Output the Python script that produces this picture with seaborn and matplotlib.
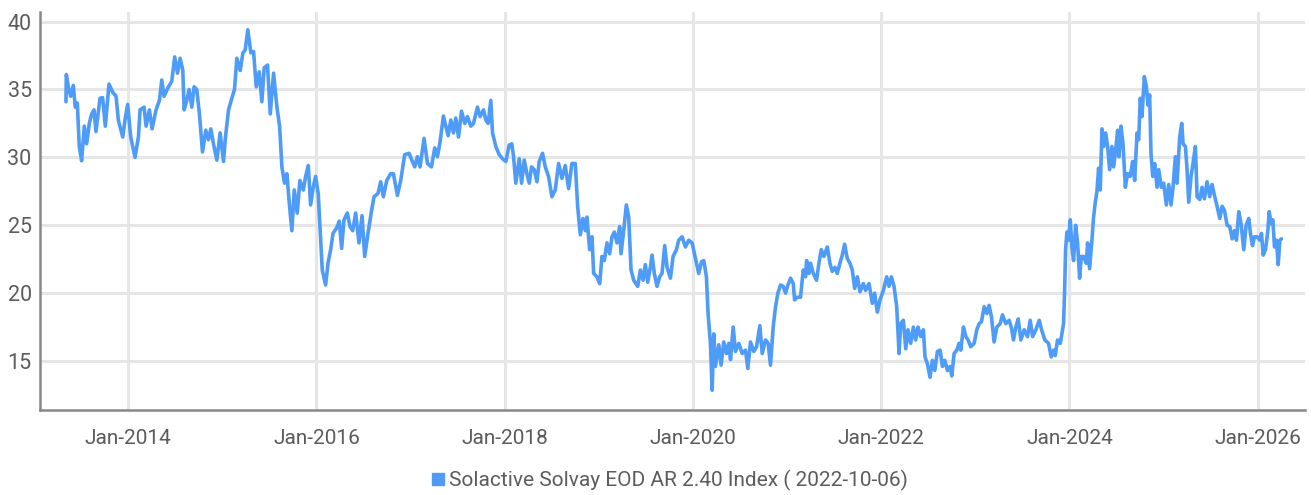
import numpy as np
import pandas as pd
import matplotlib
matplotlib.use("Agg")
import matplotlib.pyplot as plt
import matplotlib.dates as mdates
from matplotlib.lines import Line2D
import seaborn as sns

# months after Jan-2014 and index level
months_a = [-7.96, -7.91, -7.66, -7.36, -7.02, -6.77, -6.51, -6.26, -5.96, -5.62,
            -5.32, -4.98, -4.68, -4.38, -4.13, -3.62, -3.28, -2.94, -2.47, -2.00,
            -1.57, -1.28, -0.72, -0.43, -0.09, 0.30, 0.85, 1.28, 1.49, 2.00,
            2.26, 2.68, 3.02, 3.53, 3.96, 4.26, 4.55, 5.02, 5.53, 5.91,
            6.26, 6.60, 6.94, 7.11, 7.45, 7.74, 8.09, 8.38, 8.72, 9.06,
            9.45, 9.87, 10.21, 10.51, 10.85, 11.28, 11.70, 12.13, 12.38, 12.77,
            13.19, 13.53, 13.83, 14.26, 14.60, 14.89, 15.23, 15.62, 15.96, 16.30,
            16.68, 17.02, 17.32, 17.74, 18.09, 18.51, 18.94, 19.28, 19.57, 19.91,
            20.21, 20.55, 20.85, 21.15]
values_a = [34.1, 36.1, 35.2, 34.5, 35.3, 33.7, 34.0, 30.8, 29.75, 32.3,
            31.0, 32.5, 33.2, 33.5, 31.9, 34.35, 34.4, 32.3, 35.4, 34.8,
            34.5, 32.75, 31.5, 32.75, 33.9, 31.5, 30.0, 31.5, 33.5, 33.7,
            32.3, 33.5, 32.1, 33.5, 34.2, 35.7, 34.5, 35.1, 35.6, 37.4,
            36.2, 37.3, 36.4, 33.5, 34.2, 35.0, 33.7, 35.2, 35.0, 33.2,
            30.4, 32.0, 31.3, 32.1, 31.0, 29.8, 31.8, 29.7, 31.5, 33.5,
            34.35, 35.0, 37.3, 36.4, 37.7, 37.9, 39.4, 37.7, 37.8, 35.2,
            36.3, 34.1, 36.6, 36.8, 33.2, 36.2, 33.7, 32.3, 29.3, 28.1,
            28.8, 26.4, 24.6, 27.6]

months_b = [21.53, 21.87, 22.30, 22.60, 22.94, 23.23, 23.57, 23.87, 24.21, 24.43,
            24.72, 25.15, 25.45, 25.79, 26.09, 26.55, 26.89, 27.19, 27.49, 27.91,
            28.26, 28.60, 28.98, 29.40, 29.79, 30.13, 30.55, 30.98, 31.32, 31.83,
            32.17, 32.51, 32.94, 33.45, 33.79, 34.30, 34.72, 35.23, 35.79, 36.21,
            36.51, 36.85, 37.19, 37.70, 38.13, 38.64, 39.06, 39.40, 39.74, 40.17,
            40.47, 40.77, 41.11, 41.45, 41.74, 42.09, 42.47, 42.89, 43.23, 43.66,
            44.00, 44.51, 44.85, 45.28, 45.57, 45.87, 46.21, 46.43, 46.85, 47.28,
            47.70, 48.13, 48.55, 48.89, 49.11, 49.40, 49.83, 50.13, 50.47, 50.81,
            51.11, 51.40, 51.74, 52.09, 52.38, 52.81]
values_b = [25.9, 28.3, 27.6, 28.6, 29.4, 26.5, 27.8, 28.6, 27.3, 24.9,
            21.7, 20.6, 22.2, 23.2, 24.4, 24.8, 25.3, 23.3, 25.4, 25.9,
            24.9, 24.6, 25.9, 23.7, 25.7, 22.7, 24.4, 26.0, 27.1, 27.35,
            28.2, 27.1, 28.3, 28.8, 28.8, 27.2, 28.3, 30.2, 30.3, 29.7,
            29.3, 30.05, 29.3, 31.4, 29.55, 29.3, 30.7, 30.05, 31.15, 33.05,
            32.3, 31.6, 32.75, 31.8, 32.9, 31.5, 33.4, 32.5, 33.0, 32.3,
            32.5, 33.7, 33.0, 33.5, 32.75, 32.5, 34.2, 31.8, 30.8, 30.2,
            29.9, 29.7, 30.9, 31.0, 30.05, 28.1, 29.9, 28.1, 29.8, 28.8,
            28.1, 29.3, 29.1, 28.2, 29.7, 30.3]

months_c = [53.15, 53.57, 54.00, 54.43, 54.85, 55.28, 55.70, 56.13, 56.55, 56.98,
            57.28, 57.62, 57.96, 58.26, 58.47, 58.81, 59.11, 59.32, 59.74, 60.09,
            60.38, 60.68, 61.02, 61.36, 61.66, 61.96, 62.30, 62.64, 62.81, 63.15,
            63.49, 63.79, 64.09, 64.43, 64.94, 65.28, 65.62, 65.91, 66.21, 66.55,
            66.77, 67.06, 67.40, 67.74, 68.04, 68.38, 68.68, 69.11, 69.45, 69.87,
            70.17, 70.60, 71.02, 71.45, 71.87, 72.30, 72.72, 73.06, 73.36, 73.70,
            73.91, 74.21, 74.43, 74.64, 74.85, 75.28, 75.57, 75.91, 76.26, 76.55,
            76.77, 77.11, 77.40, 77.83, 78.26, 78.68, 78.98, 79.32, 79.74, 80.09,
            80.51, 80.81, 81.23, 81.57, 81.87, 82.21, 82.51, 82.81, 83.15, 83.49,
            83.79, 84.09, 84.43, 84.77, 84.94]
values_c = [29.3, 28.6, 27.1, 27.6, 29.55, 28.45, 29.4, 27.7, 29.55, 29.55,
            26.4, 24.3, 25.5, 24.6, 25.6, 23.2, 24.15, 21.45, 21.2, 20.7,
            22.7, 22.4, 23.7, 22.9, 24.15, 24.5, 23.7, 24.9, 22.9, 24.6,
            26.5, 25.6, 21.7, 20.95, 20.5, 21.7, 20.95, 22.1, 20.8, 21.9,
            22.8, 21.45, 20.5, 21.2, 21.45, 23.5, 21.9, 21.1, 22.7, 23.2,
            23.9, 24.15, 23.4, 23.9, 23.7, 22.55, 21.45, 22.3, 22.4, 21.2,
            18.5, 16.3, 12.85, 17.0, 14.6, 16.2, 14.7, 16.4, 15.55, 16.3,
            15.1, 17.5, 15.7, 16.3, 15.55, 15.8, 14.45, 16.4, 15.7, 16.05,
            17.6, 15.55, 16.55, 16.3, 14.7, 17.5, 19.0, 20.0, 20.6, 20.5,
            20.0, 20.6, 21.1, 20.7, 19.5]

months_d = [85.28, 85.70, 86.04, 86.34, 86.47, 86.77, 86.98, 87.32, 87.74, 88.04,
            88.34, 88.68, 89.11, 89.45, 89.74, 90.09, 90.38, 90.72, 91.02, 91.32,
            91.66, 92.00, 92.30, 92.60, 92.94, 93.28, 93.70, 94.00, 94.43, 94.85,
            95.15, 95.49, 95.83, 96.26, 96.68, 96.98, 97.28, 97.62, 97.96, 98.26,
            98.47, 98.81, 99.11, 99.40, 99.74, 100.09, 100.38, 100.68, 101.02, 101.36,
            101.57, 101.87, 102.21, 102.51, 102.81, 103.15, 103.49, 103.79, 104.09, 104.43,
            104.77, 104.98, 105.28, 105.62, 105.91, 106.13, 106.47, 106.77, 107.06, 107.40,
            107.83, 108.17, 108.47, 108.77, 109.11, 109.45, 109.74, 110.04, 110.38, 110.72,
            111.15, 111.45, 111.87, 112.30, 112.60, 112.85, 113.15, 113.45, 113.79, 114.21,
            114.64, 114.98, 115.28, 115.70, 116.13, 116.43, 116.85]
values_d = [19.7, 19.7, 21.7, 21.2, 22.4, 21.45, 22.2, 21.45, 20.95, 22.2,
            23.2, 22.7, 23.4, 22.2, 21.6, 21.9, 21.45, 22.2, 22.8, 23.6,
            22.55, 22.2, 21.7, 20.35, 21.2, 20.1, 20.7, 20.2, 20.7, 19.25,
            20.0, 18.6, 19.5, 20.2, 21.2, 20.5, 21.2, 20.5, 19.0, 15.55,
            17.75, 18.0, 15.9, 17.3, 16.3, 17.5, 16.55, 17.5, 16.8, 17.3,
            15.3, 14.8, 13.8, 15.05, 14.3, 15.7, 15.8, 14.6, 15.05, 14.3,
            14.6, 13.9, 15.55, 15.8, 16.3, 15.8, 17.5, 16.8, 16.55, 16.05,
            16.3, 17.3, 17.75, 17.9, 19.0, 18.5, 19.1, 18.25, 16.4, 17.5,
            17.75, 18.4, 17.75, 18.0, 17.4, 16.55, 17.5, 18.1, 16.55, 17.3,
            16.8, 18.0, 16.8, 17.3, 18.0, 17.3, 16.55]

months_e = [117.32, 117.66, 117.96, 118.17, 118.47, 118.81, 119.02, 119.23, 119.36, 119.49,
            119.66, 119.87, 120.09, 120.30, 120.51, 120.77, 121.02, 121.28, 121.49, 121.79,
            122.13, 122.30, 122.55, 122.85, 123.06, 123.28, 123.49, 123.70, 123.91, 124.13,
            124.34, 124.60, 124.85, 125.11, 125.40, 125.62, 125.96, 126.13, 126.30, 126.55,
            126.81, 127.11, 127.40, 127.74, 128.04, 128.30, 128.60, 128.81, 129.02, 129.23,
            129.53, 129.79, 130.00, 130.21, 130.38, 130.60, 130.85, 131.15, 131.36, 131.70,
            132.00, 132.34, 132.64, 132.94, 133.19, 133.49, 133.70, 134.04, 134.30, 134.47,
            134.77, 134.98, 135.19, 135.49, 135.74, 136.04, 136.26, 136.60, 136.89, 137.19,
            137.53, 137.87, 138.17, 138.47, 138.81, 139.15, 139.45, 139.74, 140.09, 140.43,
            140.72, 141.02, 141.28, 141.57, 141.87, 142.21, 142.51, 142.85, 143.06, 143.32,
            143.57, 143.91, 144.26, 144.47, 144.68, 144.98, 145.28, 145.45, 145.70, 145.91,
            146.13, 146.38, 146.60, 146.81, 147.02]
values_e = [16.3, 15.3, 15.8, 15.4, 16.55, 16.3, 17.0, 17.75, 20.0, 23.2,
            24.5, 23.9, 25.4, 23.4, 22.4, 25.0, 23.7, 21.1, 22.7, 22.7,
            22.2, 23.7, 21.8, 23.9, 25.6, 26.7, 27.5, 29.2, 27.6, 32.1,
            30.8, 31.8, 30.8, 29.1, 30.8, 29.3, 31.0, 32.0, 30.05, 32.3,
            31.0, 27.8, 28.8, 28.6, 29.7, 28.3, 31.8, 31.3, 34.35, 33.0,
            35.95, 35.2, 33.85, 34.6, 30.3, 28.6, 29.55, 27.8, 29.1, 27.8,
            28.1, 26.5, 28.0, 26.5, 27.8, 30.05, 28.1, 31.5, 32.5, 31.0,
            30.8, 29.1, 26.7, 28.6, 29.55, 30.8, 27.1, 26.9, 27.8, 26.95,
            28.2, 27.1, 28.0, 27.2, 26.4, 25.5, 26.4, 26.1, 25.0, 24.9,
            24.0, 24.6, 23.9, 26.0, 25.1, 23.2, 25.0, 25.5, 24.4, 23.5,
            24.15, 24.15, 23.9, 24.4, 22.8, 23.2, 24.6, 26.0, 25.1, 25.4,
            23.4, 23.9, 22.1, 23.9, 24.0]

series_name = "Solactive Solvay EOD AR 2.40 Index ( 2022-10-06)"
y_ticks = [15, 20, 25, 30, 35, 40]

line_color = "#4e9bf8"
text_color = "#5c5c5c"

months = months_a + months_b + months_c + months_d + months_e
values = values_a + values_b + values_c + values_d + values_e
dates = pd.Timestamp("2014-01-01") + pd.to_timedelta(np.array(months) * 30.4375, unit="D")
df = pd.DataFrame({"date": dates, "value": values})

sns.set_theme(style="whitegrid")
plt.rcParams["font.family"] = ["Roboto", "DejaVu Sans"]

fig = plt.figure(figsize=(13.11, 4.95), dpi=100)
ax = fig.add_axes([0.0305, 0.1717, 0.9649, 0.8041])

sns.lineplot(data=df, x="date", y="value", ax=ax, color=line_color,
             linewidth=2.6, estimator=None, sort=False)

ax.set_xlim(pd.Timestamp("2013-01-23"), pd.Timestamp("2026-07-03"))
ax.set_ylim(11.39, 40.71)
ax.set_yticks(y_ticks)
ax.xaxis.set_major_locator(mdates.YearLocator(2, month=1, day=1))
ax.xaxis.set_major_formatter(mdates.DateFormatter("%b-%Y"))
ax.set_xlabel("")
ax.set_ylabel("")

ax.grid(True, color="#e6e6e6", linewidth=2.2)
ax.set_axisbelow(True)
for side in ["top", "right"]:
    ax.spines[side].set_visible(False)
for side in ["left", "bottom"]:
    ax.spines[side].set_visible(True)
    ax.spines[side].set_color("#888888")
    ax.spines[side].set_linewidth(1.8)

ax.tick_params(axis="x", length=0, pad=14, labelsize=15, labelcolor=text_color)
ax.tick_params(axis="y", length=0, pad=6, labelsize=15.5, labelcolor=text_color)

handle = Line2D([], [], marker="s", linestyle="None", color=line_color, markersize=8)
fig.legend([handle], [series_name], loc="center", bbox_to_anchor=(0.51, 0.03),
           frameon=False, fontsize=15, labelcolor=text_color,
           handletextpad=0.1, handlelength=0.8, borderaxespad=0)

fig.savefig("out.png", dpi=100)
